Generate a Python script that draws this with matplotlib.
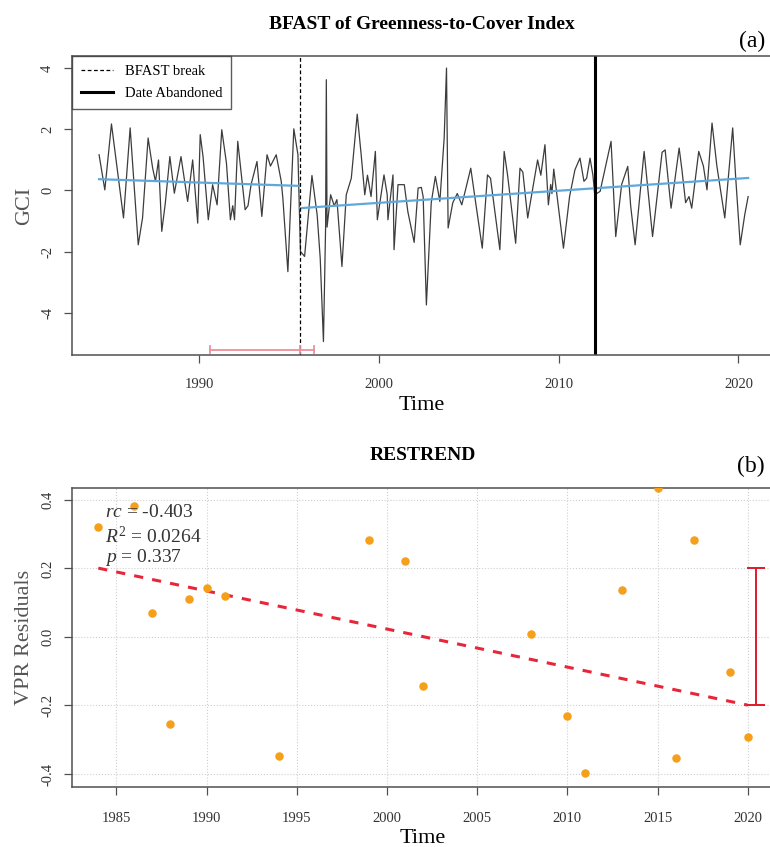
#! /usr/bin/env python3
# Two-panel figure: BFAST of GCI (a) and RESTREND residuals (b)
import numpy as np
import matplotlib
matplotlib.use('Agg')
import matplotlib.pyplot as plt

plt.rcParams['font.family'] = ['Liberation Serif', 'DejaVu Serif']
plt.rcParams['mathtext.fontset'] = 'custom'
plt.rcParams['mathtext.rm'] = 'Liberation Serif'
plt.rcParams['mathtext.it'] = 'Liberation Serif:italic'

# ---- panel (a) data: GCI series (read at turning points) ----
t_gci = [1984.41, 1984.73, 1985.10, 1985.77, 1986.14, 1986.59, 1986.83, 1987.14,
         1987.39, 1987.55, 1987.72, 1987.90, 1988.10, 1988.35, 1988.60, 1988.97,
         1989.34, 1989.62, 1989.90, 1990.04, 1990.20, 1990.49, 1990.73, 1990.98,
         1991.24, 1991.50, 1991.72, 1991.85, 1991.95, 1992.13, 1992.54, 1992.70,
         1992.87, 1993.20, 1993.47, 1993.76, 1993.95, 1994.27, 1994.55, 1994.64,
         1994.92, 1995.25, 1995.48, 1995.62, 1995.85, 1996.26, 1996.55, 1996.72,
         1996.90, 1997.02, 1997.06, 1997.10, 1997.30, 1997.50, 1997.65, 1997.93,
         1998.17, 1998.45, 1998.78, 1999.00, 1999.20, 1999.35, 1999.55, 1999.79,
         1999.90, 2000.27, 2000.45, 2000.49, 2000.77, 2000.83, 2001.05, 2001.40,
         2001.60, 2001.95, 2002.17, 2002.35, 2002.45, 2002.63, 2002.90, 2003.13,
         2003.38, 2003.62, 2003.75, 2003.84, 2004.10, 2004.35, 2004.60, 2004.80,
         2005.10, 2005.30, 2005.74, 2006.03, 2006.20, 2006.72, 2006.96, 2007.15,
         2007.60, 2007.84, 2008.00, 2008.27, 2008.82, 2009.00, 2009.23, 2009.42,
         2009.55, 2009.62, 2009.72, 2010.26, 2010.60, 2010.90, 2011.18, 2011.40,
         2011.55, 2011.74, 2011.90, 2012.00, 2012.30, 2012.91, 2013.17, 2013.50,
         2013.84, 2014.00, 2014.25, 2014.75, 2015.22, 2015.75, 2015.92, 2016.25,
         2016.70, 2016.85, 2017.06, 2017.25, 2017.40, 2017.79, 2018.05, 2018.25,
         2018.53, 2018.80, 2019.24, 2019.68, 2019.85, 2020.10, 2020.35, 2020.54]
gci = [1.17, 0.02, 2.18, -0.90, 2.05, -1.78, -0.90, 1.72,
       0.74, 0.30, 1.00, -1.34, -0.40, 1.11, -0.09, 1.11,
       -0.36, 1.00, -1.07, 1.83, 1.10, -0.96, 0.19, -0.47,
       1.99, 0.90, -0.96, -0.50, -0.96, 1.61, -0.63, -0.50,
       0.19, 0.95, -0.85, 1.17, 0.80, 1.17, 0.30, -0.25,
       -2.66, 2.02, 1.17, -2.00, -2.16, 0.49, -0.80, -2.22,
       -4.95, -1.20, 3.63, -1.20, -0.14, -0.50, -0.30, -2.49,
       -0.14, 0.40, 2.50, 1.17, -0.14, 0.50, -0.20, 1.28,
       -0.96, 0.51, -0.14, -0.96, 0.51, -1.94, 0.19, 0.19,
       -0.70, -1.70, 0.08, 0.10, -0.20, -3.75, -0.40, 0.46,
       -0.36, 1.72, 4.01, -1.23, -0.40, -0.10, -0.47, 0.00,
       0.73, -0.10, -1.89, 0.51, 0.40, -1.94, 1.28, 0.50,
       -1.73, 0.73, 0.60, -0.90, 1.00, 0.50, 1.50, -0.47,
       0.20, -0.10, 0.70, -1.89, -0.20, 0.68, 1.06, 0.30,
       0.40, 1.06, 0.50, -0.14, -0.03, 1.61, -1.51, 0.20,
       0.79, -0.50, -1.78, 1.28, -1.51, 1.25, 1.33, -0.58,
       1.39, 0.70, -0.40, -0.20, -0.58, 1.28, 0.80, 0.02,
       2.21, 0.80, -0.90, 2.05, 0.40, -1.78, -0.80, -0.20]

trend1_t = [1984.41, 1995.58]
trend1_v = [0.37, 0.15]
trend2_t = [1995.58, 2020.54]
trend2_v = [-0.58, 0.41]
bfast_break = 1995.58
break_ci = [1990.6, 1996.4]
date_abandoned = 2012.0

# ---- panel (b) data: RESTREND residuals ----
years_b = [1984, 1986, 1987, 1988, 1989, 1990, 1991, 1994, 1999, 2001,
           2002, 2008, 2010, 2011, 2013, 2015, 2016, 2017, 2019, 2020]
resid = [0.322, 0.382, 0.069, -0.253, 0.111, 0.143, 0.121, -0.347, 0.282, 0.221,
         -0.143, 0.009, -0.231, -0.396, 0.138, 0.436, -0.352, 0.282, -0.101, -0.291]
fit_t = [1984, 2020]
fit_v = [0.201, -0.199]
change_x = 2020.46
change_span = [-0.2, 0.2]

spine_col = '#505050'
tick_col = '#333333'

fig = plt.figure(figsize=(7.7, 8.47), dpi=100)

# ---------------- (a) ----------------
ax1 = fig.add_axes([0.0939, 0.5809, 0.9071, 0.3524])
ax1.plot(t_gci, gci, color='#3c3c3c', lw=0.9)
ax1.plot(trend1_t, trend1_v, color='#5fa8dc', lw=1.6)
ax1.plot(trend2_t, trend2_v, color='#5fa8dc', lw=1.6)
ax1.axvline(bfast_break, color='black', lw=0.9, ls=(0, (3, 2)), label='BFAST break')
ax1.axvline(date_abandoned, color='black', lw=2.2, label='Date Abandoned')
# confidence interval of break
ybar = -5.22
ax1.plot(break_ci, [ybar, ybar], color='#ee8f9c', lw=1.3)
for xc in [break_ci[0], bfast_break, break_ci[1]]:
    ax1.plot([xc, xc], [ybar - 0.12, ybar + 0.12], color='#ee8f9c', lw=1.3)
ax1.set_xlim(1982.92, 2021.8)
ax1.set_ylim(-5.39, 4.39)
ax1.set_xticks([1990, 2000, 2010, 2020])
ax1.set_yticks([-4, -2, 0, 2, 4])
ax1.set_yticklabels(['-4', '-2', '0', '2', '4'], rotation=90, va='center')
ax1.set_xlabel('Time', fontsize=16, labelpad=4)
ax1.set_ylabel('GCI', fontsize=16, color='#555555', labelpad=5)
ax1.set_title('BFAST of Greenness-to-Cover Index', fontsize=14, fontweight='bold',
              pad=20)
ax1.text(0.973, 1.049, '(a)', transform=ax1.transAxes, fontsize=17,
         ha='center', va='center')
leg = ax1.legend(loc='upper left', fontsize=10.5, frameon=True, fancybox=False,
                 borderaxespad=0.0, handlelength=2.2, borderpad=0.6,
                 labelspacing=0.6)
leg.get_frame().set_edgecolor('#333333')
leg.get_frame().set_linewidth(1.0)

# ---------------- (b) ----------------
ax2 = fig.add_axes([0.0939, 0.0712, 0.9111, 0.3523])
ax2.grid(True, color='#cfcfcf', ls=':', lw=0.8)
ax2.set_axisbelow(True)
ax2.plot(fit_t, fit_v, color='#e8263a', lw=2.2, ls=(0, (3, 3)))
ax2.scatter(years_b, resid, s=26, color='#f5a01a', zorder=3, clip_on=True)
ax2.errorbar([change_x], [np.mean(change_span)],
             yerr=[[np.mean(change_span) - change_span[0]],
                   [change_span[1] - np.mean(change_span)]],
             fmt='none', ecolor='#e01a2a', elinewidth=1.4, capsize=6.5, capthick=1.4)
ax2.set_xlim(1982.56, 2021.44)
ax2.set_ylim(-0.437, 0.434)
ax2.set_xticks([1985, 1990, 1995, 2000, 2005, 2010, 2015, 2020])
ax2.set_yticks([-0.4, -0.2, 0.0, 0.2, 0.4])
ax2.set_yticklabels(['-0.4', '-0.2', '0.0', '0.2', '0.4'], rotation=90, va='center')
ax2.set_xlabel('Time', fontsize=16, labelpad=3)
ax2.set_ylabel('VPR Residuals', fontsize=16, color='#555555', labelpad=5)
ax2.set_title('RESTREND', fontsize=14, fontweight='bold', pad=20.5)
ax2.text(0.9675, 1.072, '(b)', transform=ax2.transAxes, fontsize=17,
         ha='center', va='center')
ax2.text(1984.35, 0.364, r'$rc$ = -0.403', fontsize=14, color='#333333', va='center')
ax2.text(1984.35, 0.292, r'$R^2$ = 0.0264', fontsize=14, color='#333333', va='center')
ax2.text(1984.35, 0.232, r'$p$ = 0.337', fontsize=14, color='#333333', va='center')

for ax, xpad in ((ax1, 10.5), (ax2, 12)):
    for sp in ax.spines.values():
        sp.set_color(spine_col)
        sp.set_linewidth(1.1)
    ax.tick_params(direction='out', length=6, width=0.9, color=spine_col,
                   labelsize=10.5, labelcolor=tick_col)
    ax.tick_params(axis='x', pad=xpad)
    ax.tick_params(axis='y', pad=7)

fig.savefig('out.png', dpi=100)
